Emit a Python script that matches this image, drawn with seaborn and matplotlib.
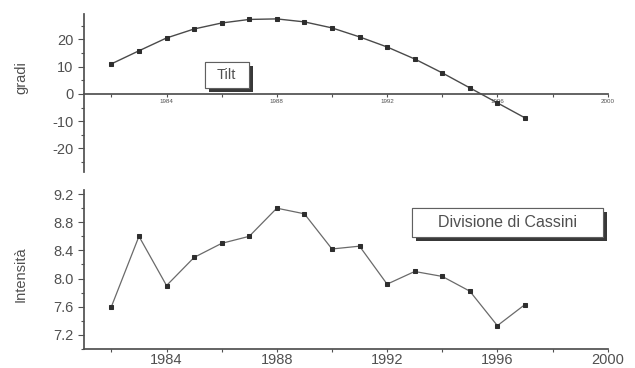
import matplotlib
matplotlib.use("Agg")
import matplotlib.pyplot as plt
import matplotlib.patheffects as pe
from matplotlib.patches import Rectangle
from matplotlib.ticker import MultipleLocator, FixedLocator
import seaborn as sns
import pandas as pd

# data
years = [1982, 1983, 1984, 1985, 1986, 1987, 1988, 1989,
         1990, 1991, 1992, 1993, 1994, 1995, 1996, 1997]
tilt = [11.0, 15.8, 20.5, 23.8, 26.0, 27.3, 27.5, 26.4,
        24.2, 20.9, 17.2, 12.8, 7.7, 2.2, -3.3, -8.8]
intensita = [7.60, 8.60, 7.90, 8.30, 8.50, 8.60, 9.00, 8.92,
             8.42, 8.46, 7.92, 8.10, 8.03, 7.82, 7.33, 7.63]
top_xticks = [1984, 1988, 1992, 1996, 2000]
bottom_xticks = [1984, 1988, 1992, 1996, 2000]
intens_ticks = [7.2, 7.6, 8.0, 8.4, 8.8, 9.2]

df = pd.DataFrame({"anno": years, "tilt": tilt, "intensita": intensita})

sns.set_theme(style="white")
plt.rcParams["font.family"] = ["Liberation Sans", "DejaVu Sans"]
plt.rcParams["axes.unicode_minus"] = False

ink = "#505050"
mark_c = "#2e2e2e"
shadow = [pe.withSimplePatchShadow(offset=(3, -3), shadow_rgbFace="#222222",
                                   alpha=0.9), pe.Normal()]


def label_box(ax, x0, y0, w, h, text, size):
    # framed legend-like label with a drop shadow, placed in axes fraction
    r = Rectangle((x0, y0), w, h, transform=ax.transAxes, fc="white",
                  ec="#606060", lw=0.8, zorder=5, clip_on=False)
    r.set_path_effects(shadow)
    ax.add_patch(r)
    ax.text(x0 + w / 2, y0 + h / 2, text, transform=ax.transAxes,
            fontsize=size, color=ink, ha="center", va="center", zorder=6)


def style_axes(ax, xticks, xlabelsize, xpad):
    for s in ["top", "right"]:
        ax.spines[s].set_visible(False)
    ax.spines["bottom"].set_bounds(1981, 2000)
    ax.spines["left"].set_color(ink)
    ax.spines["bottom"].set_color(ink)
    ax.set_xlim(1981, 2000.3)
    ax.xaxis.set_major_locator(FixedLocator(xticks))
    ax.xaxis.set_minor_locator(MultipleLocator(2))
    ax.tick_params(axis="x", which="both", direction="out", length=2.5,
                   width=0.8, color=ink, labelsize=xlabelsize,
                   labelcolor=ink, pad=xpad, bottom=True)
    ax.tick_params(axis="y", which="major", direction="out", length=4,
                   width=0.8, color=ink, labelsize=10.5, labelcolor=ink,
                   left=True)
    ax.tick_params(axis="y", which="minor", direction="out", length=2,
                   width=0.8, color=ink, left=True)
    ax.set_xlabel("")


fig = plt.figure(figsize=(6.35, 3.68), dpi=100)
ax1 = fig.add_axes([0.132, 0.533, 0.838, 0.429])
ax2 = fig.add_axes([0.132, 0.052, 0.838, 0.432])

# top panel: tilt
sns.lineplot(data=df, x="anno", y="tilt", ax=ax1, color="#4a4a4a", lw=1.0,
             marker="s", markersize=3.2, markerfacecolor=mark_c,
             markeredgecolor=mark_c)
ax1.set_ylim(-28.6, 29.3)
style_axes(ax1, top_xticks, 4.5, 1.5)
ax1.spines["bottom"].set_position(("data", 0))
ax1.yaxis.set_major_locator(MultipleLocator(10))
ax1.yaxis.set_minor_locator(MultipleLocator(5))
ax1.set_ylabel("gradi", fontsize=10.5, color=ink)
ax1.yaxis.set_label_coords(-0.105, 0.6)
label_box(ax1, 0.227, 0.532, 0.083, 0.164, "Tilt", 10.5)

# bottom panel: intensita
sns.lineplot(data=df, x="anno", y="intensita", ax=ax2, color="#6a6a6a",
             lw=0.9, marker="s", markersize=3.2, markerfacecolor=mark_c,
             markeredgecolor=mark_c)
ax2.set_ylim(7.0, 9.26)
style_axes(ax2, bottom_xticks, 10.5, 0.5)
ax2.yaxis.set_major_locator(FixedLocator(intens_ticks))
ax2.yaxis.set_minor_locator(MultipleLocator(0.2))
ax2.yaxis.set_major_formatter(plt.FuncFormatter(lambda v, p: f"{v:.1f}"))
ax2.set_ylabel("Intensità", fontsize=10.5, color=ink)
ax2.yaxis.set_label_coords(-0.105, 0.47)
label_box(ax2, 0.617, 0.706, 0.359, 0.18, "Divisione di Cassini", 11.5)

fig.savefig("out.png", dpi=100, facecolor="white")
